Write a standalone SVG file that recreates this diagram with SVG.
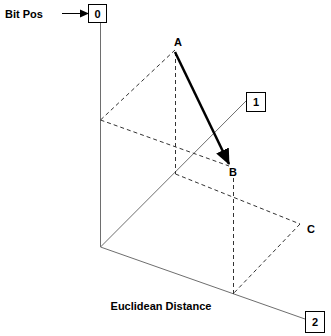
<svg xmlns="http://www.w3.org/2000/svg" width="331" height="336" viewBox="0 0 331 336">
<style>
.axis{stroke:#6e6e6e;stroke-width:1;fill:none}
.dash{stroke:#333;stroke-width:1;fill:none;stroke-dasharray:4,3}
.box{fill:#fff;stroke:#000;stroke-width:1}
.t{font-family:"Liberation Sans",Arial,sans-serif;font-weight:bold;font-size:11px;fill:#000}
</style>
<defs>
<marker id="ah" markerWidth="10" markerHeight="10" refX="8" refY="5" orient="auto" markerUnits="userSpaceOnUse"><path d="M0,1 L9,5 L0,9 Z" fill="#000"/></marker>
<marker id="ahb" markerWidth="18" markerHeight="18" refX="15" refY="9" orient="auto" markerUnits="userSpaceOnUse"><path d="M0,2 L16,9 L0,16 Z" fill="#000"/></marker>
</defs>
<g id="connectors">
<line class="axis" x1="100.5" y1="23" x2="100.5" y2="247"/>
<line class="axis" x1="100.5" y1="247" x2="246" y2="101"/>
<line class="axis" x1="100.5" y1="247" x2="305" y2="319"/>
<line class="dash" x1="175" y1="50" x2="100.5" y2="120" stroke-dasharray="3,2"/>
<line class="dash" x1="175.5" y1="52" x2="175.5" y2="174" stroke="#888"/>
<line class="dash" x1="100.5" y1="120" x2="229" y2="166"/>
<line class="dash" x1="175.5" y1="174" x2="300" y2="224"/>
<line class="dash" x1="300" y1="224" x2="233" y2="294"/>
<line class="dash" x1="233.5" y1="178" x2="233.5" y2="294"/>
<line x1="62" y1="13.5" x2="88" y2="13.5" stroke="#000" stroke-width="1" marker-end="url(#ah)"/>
<line x1="175" y1="52" x2="229" y2="164" stroke="#000" stroke-width="2.5" marker-end="url(#ahb)"/>
</g>
<g id="bitpos"><text class="t" x="5" y="18">Bit Pos</text></g>
<g id="node0"><rect class="box" x="88.5" y="4.5" width="18" height="18"/><text class="t" x="97.5" y="18" text-anchor="middle">0</text></g>
<g id="node1"><rect class="box" x="246.5" y="92.5" width="19" height="19"/><text class="t" x="256" y="106" text-anchor="middle">1</text></g>
<g id="node2"><rect class="box" x="305.5" y="311.5" width="19" height="21"/><text class="t" x="315" y="326" text-anchor="middle">2</text></g>
<g id="A"><text class="t" x="178" y="46" text-anchor="middle">A</text></g>
<g id="B"><text class="t" x="233" y="176" text-anchor="middle">B</text></g>
<g id="C"><text class="t" x="311" y="233" text-anchor="middle">C</text></g>
<g id="label"><text class="t" x="161" y="310" text-anchor="middle">Euclidean Distance</text></g>
</svg>
